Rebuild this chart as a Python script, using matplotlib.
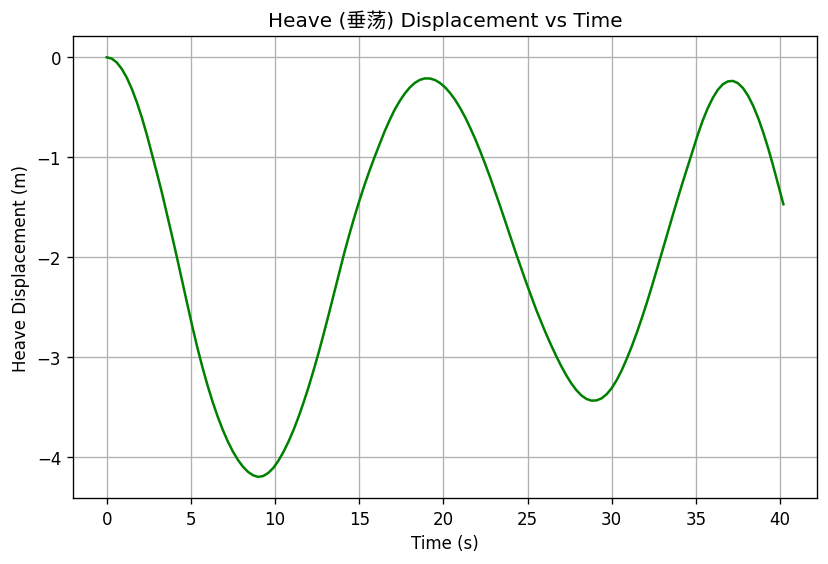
import numpy as np
import matplotlib
matplotlib.use("Agg")
import matplotlib.pyplot as plt

plt.rcParams['font.family'] = ['DejaVu Sans', 'Noto Sans CJK SC']

# time samples (s), read every 0.3 s from the reference
time_s = np.round(np.arange(0, 40.21, 0.3), 1)

# heave displacement (m)
heave_m = [
    0.000, -0.013, -0.052, -0.117, -0.206, -0.319, -0.454, -0.609,
    -0.784, -0.974, -1.168, -1.368, -1.583, -1.800, -2.022, -2.252,
    -2.478, -2.702, -2.913, -3.108, -3.287, -3.450, -3.597, -3.728,
    -3.844, -3.944, -4.028, -4.096, -4.147, -4.181, -4.197, -4.188,
    -4.157, -4.107, -4.035, -3.947, -3.844, -3.727, -3.595, -3.450,
    -3.294, -3.125, -2.949, -2.759, -2.564, -2.364, -2.163, -1.965,
    -1.780, -1.605, -1.440, -1.285, -1.140, -1.003, -0.874, -0.745,
    -0.631, -0.526, -0.439, -0.364, -0.303, -0.256, -0.226, -0.211,
    -0.212, -0.227, -0.257, -0.300, -0.357, -0.426, -0.508, -0.601,
    -0.707, -0.820, -0.944, -1.075, -1.211, -1.355, -1.502, -1.651,
    -1.803, -1.954, -2.100, -2.243, -2.382, -2.518, -2.643, -2.765,
    -2.879, -2.987, -3.088, -3.180, -3.261, -3.329, -3.382, -3.417,
    -3.434, -3.432, -3.411, -3.370, -3.309, -3.228, -3.129, -3.013,
    -2.888, -2.751, -2.603, -2.448, -2.283, -2.114, -1.942, -1.768,
    -1.595, -1.425, -1.259, -1.100, -0.942, -0.781, -0.635, -0.511,
    -0.408, -0.326, -0.270, -0.241, -0.236, -0.259, -0.308, -0.384,
    -0.484, -0.607, -0.750, -0.912, -1.091, -1.280, -1.470,
]

fig, ax = plt.subplots(figsize=(6.9, 4.708), dpi=120)
ax.plot(time_s, heave_m, color='green', linewidth=1.5)
ax.set_title("Heave (垂荡) Displacement vs Time")
ax.set_xlabel("Time (s)")
ax.set_ylabel("Heave Displacement (m)")
ax.grid(True)
fig.subplots_adjust(left=0.088, right=0.987, top=0.934, bottom=0.117)
plt.savefig("out.png")
